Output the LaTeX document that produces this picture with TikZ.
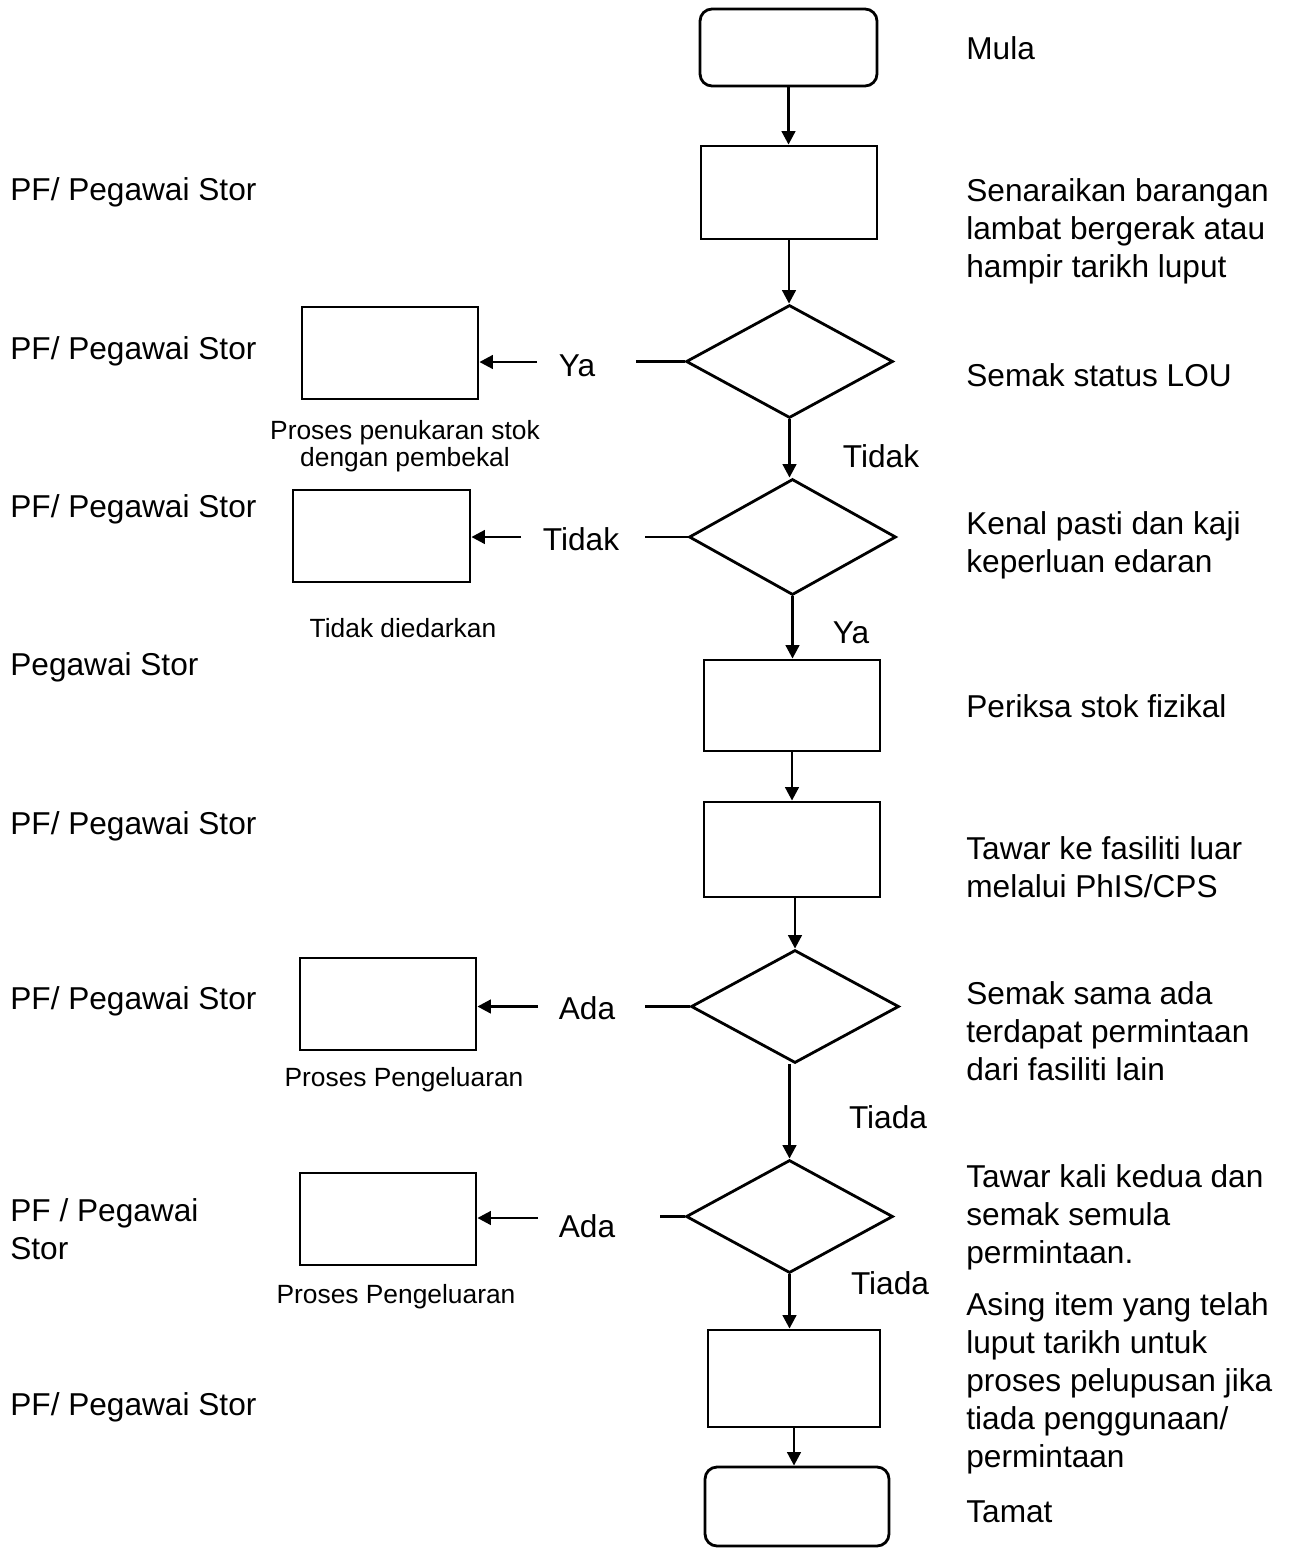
\documentclass[tikz,border=0pt]{standalone}
\usepackage{fontspec}
\setmainfont{Liberation Sans}
\usetikzlibrary{shapes.geometric,arrows.meta}

\tikzset{
  base/.style={draw, line width=1.6pt, inner sep=0pt},
  procbox/.style={base, rectangle},
  termbox/.style={base, rectangle, rounded corners=0.24cm},
  decide/.style={base, diamond},
  flow/.style={line width=1.6pt, -{Triangle[length=0.27cm,width=0.27cm]}},
  plain/.style={line width=1.6pt},
  txt/.style={inner sep=0pt, font=\fontsize{18}{21.6}\selectfont, align=left, anchor=north west},
  lbl/.style={inner sep=0pt, font=\fontsize{18}{21.6}\selectfont},
  captext/.style={inner sep=0pt, font=\fontsize{15}{15.4}\selectfont, align=center, anchor=north}
}

\begin{document}
\begin{tikzpicture}[x=0.02cm, y=-0.02cm]
\useasboundingbox (0,0) rectangle (1293,1548);

% main column
\node[termbox, minimum width=3.54cm, minimum height=1.54cm] (t1) at (788.5,47.5) {};
\node[procbox, minimum width=3.52cm, minimum height=1.86cm] (b1) at (789,192.5) {};
\node[decide, minimum width=4.14cm, minimum height=2.26cm] (d1) at (789.5,361.5) {};
\node[decide, minimum width=4.14cm, minimum height=2.32cm] (d2) at (792.5,537) {};
\node[procbox, minimum width=3.52cm, minimum height=1.82cm] (b3) at (792,705.5) {};
\node[procbox, minimum width=3.52cm, minimum height=1.90cm] (b4) at (792,849.5) {};
\node[decide, minimum width=4.16cm, minimum height=2.26cm] (d3) at (795,1006.5) {};
\node[decide, minimum width=4.14cm, minimum height=2.26cm] (d4) at (789.5,1216.5) {};
\node[procbox, minimum width=3.44cm, minimum height=1.94cm] (b5) at (794,1378.5) {};
\node[termbox, minimum width=3.68cm, minimum height=1.58cm] (t2) at (797,1506.5) {};

% side boxes
\node[procbox, minimum width=3.52cm, minimum height=1.84cm] (s1) at (390,353) {};
\node[procbox, minimum width=3.54cm, minimum height=1.84cm] (s2) at (381.5,536) {};
\node[procbox, minimum width=3.52cm, minimum height=1.84cm] (s3) at (388,1004) {};
\node[procbox, minimum width=3.52cm, minimum height=1.84cm] (s4) at (388,1219) {};

% vertical flow
\draw[flow] (t1.south) -- (t1.south |- b1.north);
\draw[flow] (b1.south) -- (b1.south |- d1.north);
\draw[flow] (d1.south) -- (d1.south |- d2.north);
\draw[flow] (d2.south) -- (d2.south |- b3.north);
\draw[flow] (b3.south) -- (b3.south |- b4.north);
\draw[flow] (d3.north |- b4.south) -- (d3.north);
\draw[flow] (d4.north |- d3.south) -- (d4.north);
\draw[flow] (d4.south) -- (d4.south |- b5.north);
\draw[flow] (b5.south) -- (b5.south |- t2.north);

% branch labels on the main column
\node[lbl] (n1) at (881,456) {Tidak};
\node[lbl] (y2) at (851,633) {Ya};
\node[lbl] (n3) at (888,1117) {Tiada};
\node[lbl] (n4) at (890,1283) {Tiada};

% side branches: line, label, arrow
\node[lbl] (y1) at (577,366) {Ya};
\coordinate (y1r) at (636,361.5);
\coordinate (y1l) at (537,362);
\draw[plain] (d1.west) -- (y1r);
\draw[flow] (y1l) -- (y1l -| s1.east);

\node[lbl] (n2) at (581,539) {Tidak};
\coordinate (n2r) at (645,537);
\coordinate (n2l) at (521,537);
\draw[plain] (d2.west) -- (n2r);
\draw[flow] (n2l) -- (n2l -| s2.east);

\node[lbl] (a3) at (587,1008) {Ada};
\coordinate (a3r) at (645,1006.5);
\coordinate (a3l) at (538,1006.5);
\draw[plain] (d3.west) -- (a3r);
\draw[flow] (a3l) -- (a3l -| s3.east);

\node[lbl] (a4) at (587,1226) {Ada};
\coordinate (a4r) at (660,1216.5);
\coordinate (a4l) at (538,1218);
\draw[plain] (d4.west) -- (a4r);
\draw[flow] (a4l) -- (a4l -| s4.east);

% captions under side boxes
\node[captext] (c1) at (405,420) {Proses penukaran stok\\dengan pembekal};
\node[captext] (c2) at (403,618) {Tidak diedarkan};
\node[captext] (c3) at (404,1067) {Proses Pengeluaran};
\node[captext] (c4) at (396,1284) {Proses Pengeluaran};

% responsibility column
\node[txt] (r1) at (10,177) {PF/ Pegawai Stor};
\node[txt] (r2) at (10,336) {PF/ Pegawai Stor};
\node[txt] (r3) at (10,494) {PF/ Pegawai Stor};
\node[txt] (r4) at (10,652) {Pegawai Stor};
\node[txt] (r5) at (10,811) {PF/ Pegawai Stor};
\node[txt] (r6) at (10,986) {PF/ Pegawai Stor};
\node[txt] (r7) at (10,1198) {PF / Pegawai\\Stor};
\node[txt] (r8) at (10,1392) {PF/ Pegawai Stor};

% step descriptions
\node[txt] (e0) at (966,36) {Mula};
\node[txt] (e1) at (966,178) {Senaraikan barangan\\lambat bergerak atau\\hampir tarikh luput};
\node[txt] (e2) at (966,363) {Semak status LOU};
\node[txt] (e3) at (966,511) {Kenal pasti dan kaji\\keperluan edaran};
\node[txt] (e4) at (966,694) {Periksa stok fizikal};
\node[txt] (e5) at (966,836) {Tawar ke fasiliti luar\\melalui PhIS/CPS};
\node[txt] (e6) at (966,981) {Semak sama ada\\terdapat permintaan\\dari fasiliti lain};
\node[txt] (e7) at (966,1164) {Tawar kali kedua dan\\semak semula\\permintaan.};
\node[txt] (e8) at (966,1292) {Asing item yang telah\\luput tarikh untuk\\proses pelupusan jika\\tiada penggunaan/\\permintaan};
\node[txt] (e9) at (966,1500) {Tamat};
\end{tikzpicture}
\end{document}
